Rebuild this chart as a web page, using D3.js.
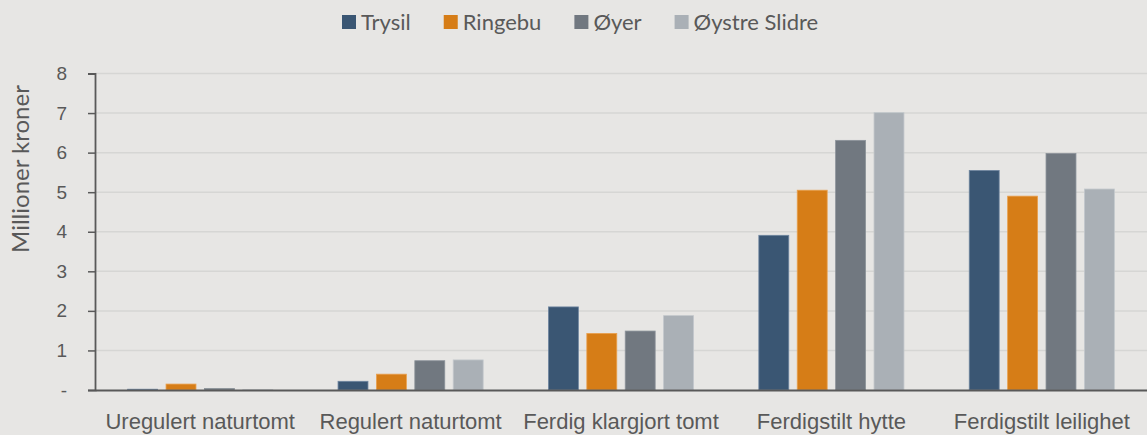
<!DOCTYPE html>
<html>
<head>
<meta charset="utf-8">
<script src="https://cdn.jsdelivr.net/npm/d3@7"></script>
<style>
  body { margin: 0; background: #e7e6e4; }
  svg { display: block; font-family: Lato, "Open Sans", sans-serif; }
</style>
</head>
<body>
<svg id="chart"></svg>
<script>
const categories = ['Uregulert naturtomt', 'Regulert naturtomt', 'Ferdig klargjort tomt', 'Ferdigstilt hytte', 'Ferdigstilt leilighet'];
const seriesNames = ['Trysil', 'Ringebu', 'Øyer', 'Øystre Slidre'];
const trysil = [0.02, 0.22, 2.10, 3.91, 5.55];
const ringebu = [0.15, 0.40, 1.43, 5.05, 4.90];
const oyer = [0.04, 0.74, 1.49, 6.31, 5.98];
const oystreSlidre = [0.01, 0.76, 1.88, 7.01, 5.08];
const yTicks = [0, 1, 2, 3, 4, 5, 6, 7, 8];

const colors = ['#3a5673', '#d67d17', '#717880', '#aab0b6'];
const strokes = ['#6f86a0', '#e9a04e', '#8c939a', '#c3c8cc'];

const W = 1147, H = 435;
const margin = { top: 73.5, right: 0, bottom: 45, left: 95 };

const svg = d3.select('#chart').attr('width', W).attr('height', H);

const allSeries = [trysil, ringebu, oyer, oystreSlidre];
const data = categories.map((c, i) => ({
  category: c,
  values: seriesNames.map((s, j) => ({ key: s, idx: j, value: allSeries[j][i] }))
}));

const x0 = d3.scaleBand()
  .domain(categories)
  .range([margin.left, W - margin.right])
  .padding(0);

const x1 = d3.scaleBand()
  .domain(seriesNames)
  .range([0, x0.bandwidth()])
  .paddingInner(0.22)
  .paddingOuter(0.85);

const y = d3.scaleLinear()
  .domain([0, 8])
  .range([H - margin.bottom, margin.top]);

// gridlines
svg.append('g')
  .selectAll('line')
  .data(yTicks.slice(1))
  .join('line')
  .attr('x1', margin.left)
  .attr('x2', W)
  .attr('y1', d => y(d))
  .attr('y2', d => y(d))
  .attr('stroke', '#d6d6d4')
  .attr('stroke-width', 1.5);

// bars
svg.append('g')
  .selectAll('g')
  .data(data)
  .join('g')
  .attr('transform', d => `translate(${x0(d.category)},0)`)
  .selectAll('rect')
  .data(d => d.values)
  .join('rect')
  .attr('x', d => x1(d.key))
  .attr('width', x1.bandwidth())
  .attr('y', d => y(d.value))
  .attr('height', d => y(0) - y(d.value))
  .attr('fill', d => colors[d.idx])
  .attr('stroke', d => strokes[d.idx])
  .attr('stroke-width', 0.8);

// y axis
const axisY = d3.axisLeft(y)
  .tickValues(yTicks)
  .tickSize(7)
  .tickPadding(21)
  .tickFormat(d => d === 0 ? '-' : d3.format('d')(d));

const gy = svg.append('g')
  .attr('transform', `translate(${margin.left},0)`)
  .call(axisY);
gy.select('.domain').attr('stroke', '#595959').attr('stroke-width', 1.8);
gy.selectAll('.tick line').attr('stroke', '#595959').attr('stroke-width', 1.5);
gy.selectAll('.tick text')
  .attr('fill', '#595959')
  .style('font-size', '19px');

// x axis
const axisX = d3.axisBottom(x0).tickSize(0).tickPadding(23);
const gx = svg.append('g')
  .attr('transform', `translate(0,${y(0)})`)
  .call(axisX);
gx.select('.domain').attr('stroke', '#595959').attr('stroke-width', 1.8);
gx.selectAll('.tick text')
  .attr('fill', '#595959')
  .style('font-size', '22px');

// y label
svg.append('text')
  .attr('transform', `translate(29,${169}) rotate(-90)`)
  .attr('text-anchor', 'middle')
  .attr('fill', '#595959')
  .style('font-size', '24px')
  .text('Millioner kroner');

// legend
const legend = svg.append('g').attr('transform', 'translate(0,22)');
const items = legend.selectAll('g')
  .data(seriesNames)
  .join('g');
items.append('rect')
  .attr('width', 14)
  .attr('height', 14)
  .attr('y', -7)
  .attr('fill', (d, i) => colors[i]);
items.append('text')
  .attr('x', 19)
  .attr('dy', '0.35em')
  .attr('fill', '#595959')
  .style('font-size', '22px')
  .text(d => d);

let xPos = 342;
items.each(function () {
  const g = d3.select(this);
  g.attr('transform', `translate(${xPos},0)`);
  const tw = g.select('text').node().getComputedTextLength();
  xPos += 19 + tw + 33;
});
</script>
</body>
</html>
